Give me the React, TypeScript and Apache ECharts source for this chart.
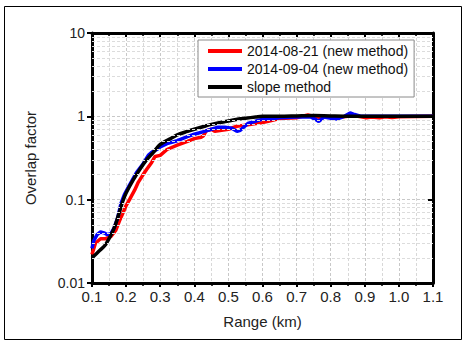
import React, { useEffect, useRef } from "react";
import * as echarts from "echarts";

const seriesNames = ["2014-08-21 (new method)", "2014-09-04 (new method)", "slope method"];

const rangeRed = [0.1, 0.11, 0.125, 0.14, 0.155, 0.17, 0.18, 0.19, 0.2, 0.21, 0.225, 0.235, 0.25, 0.26, 0.275, 0.285, 0.3, 0.32, 0.35, 0.38, 0.4, 0.42, 0.426, 0.435, 0.45, 0.46, 0.48, 0.5, 0.525, 0.557, 0.6, 0.62, 0.65, 0.7, 0.733, 0.75, 0.77, 0.8, 0.82, 0.85, 0.88, 0.905, 0.92, 0.943, 0.96, 0.98, 1.0, 1.1];
const overlapRed = [0.022, 0.03, 0.034, 0.034, 0.036, 0.043, 0.055, 0.068, 0.085, 0.1, 0.13, 0.16, 0.2, 0.23, 0.28, 0.33, 0.34, 0.4, 0.45, 0.5, 0.54, 0.56, 0.58, 0.67, 0.7, 0.66, 0.68, 0.7, 0.76, 0.79, 0.84, 0.88, 0.94, 0.96, 1.04, 1.0, 0.97, 0.99, 0.97, 1.0, 1.0, 0.96, 0.98, 0.96, 0.99, 0.97, 0.99, 1.0];

const rangeBlue = [0.1, 0.105, 0.115, 0.125, 0.135, 0.145, 0.155, 0.165, 0.175, 0.185, 0.195, 0.21, 0.23, 0.25, 0.265, 0.275, 0.29, 0.3, 0.32, 0.35, 0.38, 0.4, 0.43, 0.45, 0.47, 0.49, 0.51, 0.525, 0.535, 0.557, 0.585, 0.6, 0.62, 0.65, 0.7, 0.74, 0.755, 0.765, 0.78, 0.8, 0.82, 0.84, 0.857, 0.87, 0.89, 1.1];
const overlapBlue = [0.026, 0.032, 0.038, 0.041, 0.04, 0.038, 0.039, 0.046, 0.06, 0.09, 0.115, 0.15, 0.21, 0.27, 0.34, 0.37, 0.4, 0.43, 0.47, 0.51, 0.57, 0.61, 0.66, 0.7, 0.74, 0.74, 0.72, 0.66, 0.68, 0.82, 0.89, 0.92, 0.93, 0.96, 0.98, 0.99, 0.92, 0.87, 0.98, 0.95, 0.93, 1.0, 1.1, 1.05, 1.0, 1.0];

const rangeBlack = [0.1, 0.12, 0.14, 0.16, 0.17, 0.18, 0.19, 0.2, 0.22, 0.24, 0.26, 0.28, 0.3, 0.33, 0.35, 0.38, 0.4, 0.43, 0.45, 0.48, 0.5, 0.53, 0.55, 0.58, 0.6, 0.65, 0.7, 0.75, 0.8, 0.9, 1.0, 1.1];
const overlapBlack = [0.02, 0.024, 0.029, 0.041, 0.052, 0.07, 0.095, 0.12, 0.17, 0.23, 0.3, 0.37, 0.46, 0.54, 0.6, 0.66, 0.7, 0.76, 0.8, 0.85, 0.88, 0.93, 0.95, 0.98, 1.0, 1.0, 1.01, 1.02, 1.01, 1.0, 1.0, 1.0];

const yTickValues = [0.01, 0.1, 1, 10];
const yTickLabels = ["0.01", "0.1", "1", "10"];
const yMinorGrid = [0.02, 0.03, 0.04, 0.05, 0.06, 0.07, 0.08, 0.09, 0.2, 0.3, 0.4, 0.5, 0.6, 0.7, 0.8, 0.9, 2, 3, 4, 5, 6, 7, 8, 9];

const FONT = "Liberation Sans, Arial, sans-serif";

function pairs(xs: number[], ys: number[]) {
  return xs.map((x, i) => [x, ys[i]]);
}

function yLabel(v: number) {
  const idx = yTickValues.findIndex((t) => Math.abs(Math.log10(t) - Math.log10(v)) < 1e-6);
  return idx >= 0 ? yTickLabels[idx] : "";
}

export default function App() {
  const ref = useRef<HTMLDivElement>(null);
  useEffect(() => {
    if (!ref.current) return;
    const chart = echarts.init(ref.current, null, { renderer: "svg" });
    const gridLine = { show: true, lineStyle: { color: "#c8c8c8", type: [3, 2] as any, width: 1 } };
    const option: any = {
      animation: false,
      backgroundColor: "#fff",
      textStyle: { fontFamily: FONT },
      graphic: [
        {
          type: "rect",
          shape: { x: 4.5, y: 6.5, width: 457, height: 333 },
          style: { fill: "none", stroke: "#000", lineWidth: 1 },
          silent: true,
        },
      ],
      grid: { left: 92, right: 36, top: 33, bottom: 67 },
      legend: {
        data: seriesNames,
        orient: "vertical",
        left: 198,
        top: 40,
        padding: [4, 6, 3, 10],
        itemGap: 4,
        itemWidth: 34,
        itemHeight: 4,
        icon: "rect",
        borderColor: "#8a8a8a",
        borderWidth: 1,
        backgroundColor: "#fff",
        textStyle: { fontSize: 14, color: "#111", fontFamily: FONT },
        z: 10,
      },
      xAxis: [
        {
          type: "value",
          min: 0.1,
          max: 1.1,
          interval: 0.1,
          name: "Range (km)",
          nameLocation: "middle",
          nameGap: 31,
          nameTextStyle: { fontSize: 15, color: "#222", fontFamily: FONT },
          axisLine: { show: true, onZero: false, lineStyle: { color: "#000", width: 3 } },
          axisTick: { show: true, inside: false, length: 4, lineStyle: { color: "#000", width: 2 } },
          minorTick: { show: true, splitNumber: 2, length: 3, lineStyle: { color: "#000", width: 1.5 } },
          axisLabel: {
            fontSize: 15,
            color: "#222",
            margin: 6,
            fontFamily: FONT,
            formatter: (v: number) => v.toFixed(1),
          },
          splitLine: gridLine,
          minorSplitLine: { show: true, lineStyle: { color: "#d8d8d8", type: [3, 2], width: 1 } },
        },
        {
          type: "value",
          position: "top",
          min: 0.1,
          max: 1.1,
          interval: 0.1,
          axisLine: { show: true, onZero: false, lineStyle: { color: "#000", width: 3 } },
          axisTick: { show: true, inside: true, length: 4, lineStyle: { color: "#000", width: 2 } },
          minorTick: { show: true, splitNumber: 2, length: 3, lineStyle: { color: "#000", width: 1.5 } },
          axisLabel: { show: false },
          splitLine: { show: false },
        },
      ],
      yAxis: [
        {
          type: "log",
          logBase: 10,
          min: 0.01,
          max: 10,
          name: "Overlap factor",
          nameLocation: "middle",
          nameGap: 54,
          nameTextStyle: { fontSize: 15, color: "#222", fontFamily: FONT },
          axisLine: { show: true, onZero: false, lineStyle: { color: "#000", width: 3 } },
          axisTick: { show: true, inside: false, length: 5, lineStyle: { color: "#000", width: 2 } },
          axisLabel: { fontSize: 14, color: "#222", margin: 7, fontFamily: FONT, formatter: yLabel },
          splitLine: gridLine,
        },
        {
          type: "log",
          logBase: 10,
          min: 0.01,
          max: 10,
          position: "right",
          axisLine: { show: true, onZero: false, lineStyle: { color: "#000", width: 3 } },
          axisTick: { show: true, inside: true, length: 5, lineStyle: { color: "#000", width: 2 } },
          axisLabel: { show: false },
          splitLine: { show: false },
        },
      ],
      series: [
        {
          name: "minor-grid",
          type: "line",
          data: [],
          z: 0,
          silent: true,
          markLine: {
            silent: true,
            symbol: "none",
            label: { show: false },
            lineStyle: { color: "#dcdcdc", type: [3, 2], width: 1 },
            data: yMinorGrid.map((v) => ({ yAxis: v })),
          },
        },
        {
          name: seriesNames[0],
          type: "line",
          data: pairs(rangeRed, overlapRed),
          showSymbol: false,
          lineStyle: { color: "#ff0000", width: 3.5 },
          itemStyle: { color: "#ff0000" },
          z: 2,
        },
        {
          name: seriesNames[1],
          type: "line",
          data: pairs(rangeBlue, overlapBlue),
          showSymbol: false,
          lineStyle: { color: "#0000ff", width: 3.5 },
          itemStyle: { color: "#0000ff" },
          z: 3,
        },
        {
          name: seriesNames[2],
          type: "line",
          data: pairs(rangeBlack, overlapBlack),
          showSymbol: false,
          smooth: 0.3,
          lineStyle: { color: "#000000", width: 3.5 },
          itemStyle: { color: "#000000" },
          z: 4,
        },
      ],
    };
    chart.setOption(option);
    return () => chart.dispose();
  }, []);
  return (
    <div
      ref={ref}
      style={{ position: "fixed", left: 0, top: 0, width: 469, height: 350, background: "#fff" }}
    />
  );
}
